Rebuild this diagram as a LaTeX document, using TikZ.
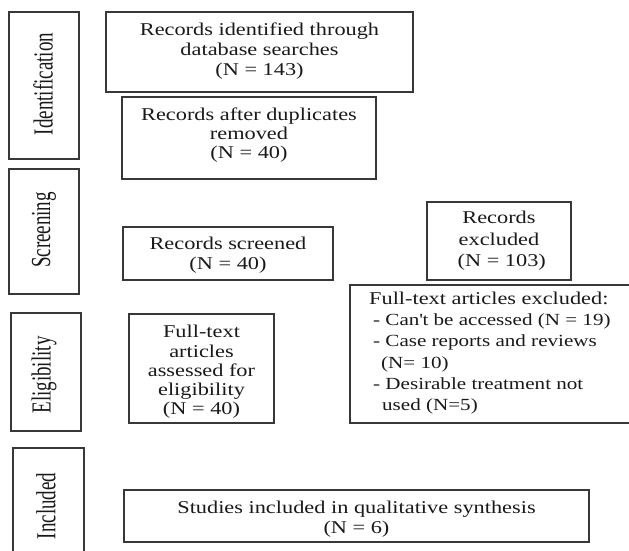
\documentclass[tikz,border=0pt]{standalone}
\usepackage{fontspec}
\setmainfont{Liberation Serif}
\newfontfamily\widefont{Liberation Serif}[FakeStretch=1.24]
\begin{document}
\begin{tikzpicture}[x=1pt,y=-1pt,
  box/.style={draw=black!78,line width=1.1pt,inner sep=0,outer sep=0},
  txt/.style={font=\widefont\fontsize{18}{20}\selectfont,align=center,inner sep=0,text=black!90},
  vlab/.style={rotate=90,inner sep=0,font=\fontsize{19}{19}\selectfont,text=black!90}]
\useasboundingbox (0,0) rectangle (629,551);
% stage boxes
\node[box,minimum width=70,minimum height=147] (sid) at (44,85.5) {};
\node[box,minimum width=70,minimum height=125] (ssc) at (44,231.5) {};
\node[box,minimum width=70,minimum height=118] (sel) at (46,372) {};
\draw[draw=black!78,line width=1.1pt] (13,560) -- (13,448) -- (84,448) -- (84,560);
\node[vlab] (lid) at (43,84) {\scalebox{1}[1.45]{Identification}};
\node[vlab] (lsc) at (44,230) {\scalebox{1}[1.45]{Screening}};
\node[vlab] (lel) at (44,375) {\scalebox{1}[1.45]{Eligibility}};
\node[vlab] (lin) at (46,506) {\scalebox{1}[1.45]{Included}};
% flow boxes
\node[box,minimum width=307,minimum height=80] (b1) at (259.5,52) {};
\node[txt] (t1) at (259.5,51) {Records identified through\\database searches\\(N = 143)};
\node[box,minimum width=254,minimum height=82] (b2) at (249,138) {};
\node[txt,font=\widefont\fontsize{18}{19}\selectfont] (t2) at (249,135) {Records after duplicates\\removed\\(N = 40)};
\node[box,minimum width=210,minimum height=53] (b3) at (228,253.5) {};
\node[txt] (t3) at (228,255) {Records screened\\(N = 40)};
\node[box,minimum width=144,minimum height=78] (b4) at (499,241) {};
\node[txt,font=\widefont\fontsize{18}{21.5}\selectfont] (t4) at (499,241) {Records\\excluded\\\ (N = 103)};
\node[box,minimum width=145,minimum height=109] (b5) at (201.5,368.5) {};
\node[txt,font=\widefont\fontsize{18}{19.3}\selectfont] (t5) at (201.5,372) {Full-text\\articles\\assessed for\\eligibility\\(N = 40)};
\draw[draw=black!78,line width=1.1pt] (640,285) -- (350,285) -- (350,423) -- (640,423);
\node[anchor=west,align=left,inner sep=0,text=black!90,font=\widefont\fontsize{17}{21.2}\selectfont] (t6) at (369,353)
  {{\fontsize{18}{21.2}\selectfont Full-text articles excluded:}\\
   \hspace*{4pt}- Can\textquotesingle t be accessed (N = 19)\\
   \hspace*{4pt}- Case reports and reviews\\
   \hspace*{12pt}(N= 10)\\
   \hspace*{4pt}- Desirable treatment not\\
   \hspace*{13pt}used (N=5)};
\node[box,minimum width=465,minimum height=52] (b7) at (356.5,516) {};
\node[txt] (t7) at (356.5,519) {Studies included in qualitative synthesis\\(N = 6)};
\end{tikzpicture}
\end{document}
